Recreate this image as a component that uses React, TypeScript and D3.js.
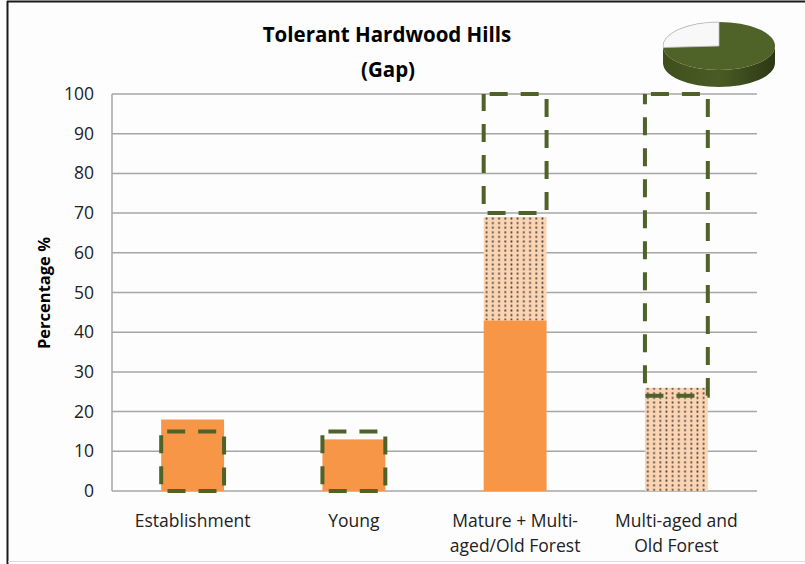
import React from "react";
import * as d3 from "d3";

const categories = ["Establishment", "Young", "Mature + Multi-|aged/Old Forest", "Multi-aged and|Old Forest"];
const currentSolid = [18, 13, 43, 0];
const currentDotted = [0, 0, 26, 26];
const rangeLow = [0, 0, 70, 24];
const rangeHigh = [15, 15, 100, 100];
const yTicks = [0, 10, 20, 30, 40, 50, 60, 70, 80, 90, 100];
const pieShares = [0.74, 0.26];

const W = 805, H = 564;
const M = { left: 112, right: 757, top: 94, bottom: 491 };
const FONT = "'Open Sans', Lato, sans-serif";

export default function App() {
  const x = d3.scaleBand<string>().domain(categories).range([M.left, M.right]).paddingInner(0.61).paddingOuter(0.305);
  const y = d3.scaleLinear().domain([0, 100]).range([M.bottom, M.top]);
  const bw = x.bandwidth();

  // pie
  const cx = 719, cy = 46, rx = 56, ry = 24, depth = 17;
  const pt = (t: number, dy = 0) => [cx + rx * Math.cos(t), cy - ry * Math.sin(t) + dy];
  const t0 = Math.PI / 2;
  const t1 = t0 + pieShares[1] * 2 * Math.PI;
  const [ax, ay] = pt(t0);
  const [bx, by] = pt(t1);
  const whiteSlice = `M${cx},${cy} L${ax},${ay} A${rx},${ry} 0 0 0 ${bx},${by} Z`;
  const side = `M${cx - rx},${cy} L${cx - rx},${cy + depth} A${rx},${ry} 0 0 0 ${cx + rx},${cy + depth} L${cx + rx},${cy} A${rx},${ry} 0 0 1 ${cx - rx},${cy} Z`;

  return (
    <svg width={W} height={H} style={{ position: "absolute", left: 0, top: 0, background: "#ffffff" }}>
      <defs>
        <pattern id="dots" width={6.2} height={4.6} patternUnits="userSpaceOnUse">
          <rect width={6.2} height={4.6} fill="#FBD4B4" />
          <rect x={2.2} y={1.3} width={1.7} height={2} fill="#4a4038" />
        </pattern>
        <linearGradient id="sideGrad" x1="0" x2="1" y1="0" y2="0">
          <stop offset="0" stopColor="#3e4f1d" />
          <stop offset="0.5" stopColor="#4a5c24" />
          <stop offset="1" stopColor="#2c3813" />
        </linearGradient>
      </defs>
      <rect x={8} y={2} width={W - 8} height={559} fill="#fdfdfd" />
      <line x1={7.5} y1={1} x2={7.5} y2={H} stroke="#1a1a1a" strokeWidth={2} />
      <line x1={7} y1={1.5} x2={W} y2={1.5} stroke="#1a1a1a" strokeWidth={2} />
      <line x1={8} y1={561.5} x2={W} y2={561.5} stroke="#d8d8d8" strokeWidth={1} />

      {/* title */}
      <text x={387} y={42} textAnchor="middle" fontFamily={FONT} fontWeight="bold" fontSize={20.5} fill="#000">Tolerant Hardwood Hills</text>
      <text x={388} y={77} textAnchor="middle" fontFamily={FONT} fontWeight="bold" fontSize={20.5} fill="#000">(Gap)</text>

      {/* grid */}
      {yTicks.map((t) => (
        <line key={"g" + t} x1={M.left} x2={M.right} y1={y(t)} y2={y(t)} stroke="#a6a6a6" strokeWidth={1.5} />
      ))}
      <line x1={M.left} x2={M.left} y1={M.top} y2={M.bottom} stroke="#a6a6a6" strokeWidth={1.5} />
      {yTicks.map((t) => (
        <text key={"t" + t} x={94} y={y(t) + 6} textAnchor="end" fontFamily={FONT} fontSize={17.5} fill="#222">{t}</text>
      ))}
      <text transform={`translate(50,${293}) rotate(-90)`} textAnchor="middle" fontFamily={FONT} fontWeight="bold" fontSize={16.5} fill="#000">Percentage %</text>

      {/* bars */}
      {categories.map((c, i) => {
        const x0 = x(c)!;
        return (
          <g key={"b" + i}>
            {currentSolid[i] > 0 && (
              <rect x={x0} y={y(currentSolid[i])} width={bw} height={y(0) - y(currentSolid[i])} fill="#F79646" />
            )}
            {currentDotted[i] > 0 && (
              <rect x={x0} y={y(currentSolid[i] + currentDotted[i])} width={bw} height={y(currentSolid[i]) - y(currentSolid[i] + currentDotted[i])} fill="url(#dots)" />
            )}
          </g>
        );
      })}
      {categories.map((c, i) => {
        const x0 = x(c)!;
        return (
          <rect key={"r" + i} x={x0} y={y(rangeHigh[i])} width={bw} height={y(rangeLow[i]) - y(rangeHigh[i])}
            fill="none" stroke="#4F6228" strokeWidth={4} strokeDasharray="18 13" strokeDashoffset={-6} />
        );
      })}

      {/* x labels */}
      {categories.map((c, i) => {
        const lines = c.split("|");
        const cxl = x(c)! + bw / 2;
        return (
          <text key={"x" + i} x={cxl} textAnchor="middle" fontFamily={FONT} fontSize={17.5} fill="#222">
            {lines.map((l, j) => (
              <tspan key={j} x={cxl} y={527 + j * 25}>{l}</tspan>
            ))}
          </text>
        );
      })}

      {/* 3D pie */}
      <path d={side} fill="url(#sideGrad)" />
      <ellipse cx={cx} cy={cy} rx={rx} ry={ry} fill="#4F6228" />
      <path d={whiteSlice} fill="#f8f8f8" stroke="#bfbfbf" strokeWidth={0.8} />
    </svg>
  );
}
